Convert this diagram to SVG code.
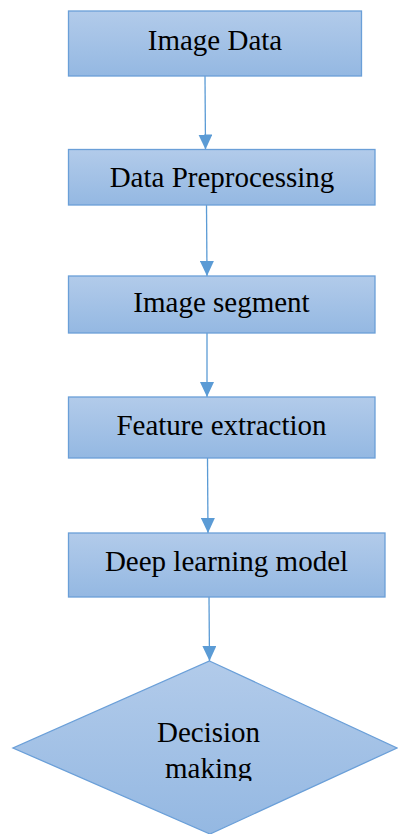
<svg xmlns="http://www.w3.org/2000/svg" width="398" height="834" viewBox="0 0 398 834">
  <defs>
    <linearGradient id="fillGrad" x1="0" y1="0" x2="0" y2="1">
      <stop offset="0" stop-color="#b2cbea"/>
      <stop offset="1" stop-color="#94b8e2"/>
    </linearGradient>
    <marker id="arrow" viewBox="0 0 15 14" refX="15" refY="7" markerWidth="15" markerHeight="14" markerUnits="userSpaceOnUse" orient="auto">
      <path d="M0,0 L15,7 L0,14 Z" fill="#5b9bd5"/>
    </marker>
    <clipPath id="diaClip">
      <rect x="0" y="0" width="398" height="781"/>
    </clipPath>
  </defs>
  <style>
    .box { fill: url(#fillGrad); stroke: #6a9fd8; stroke-width: 1.3; }
    .lbl { font-family: "Liberation Serif", "Times New Roman", serif; font-size: 29px; fill: #000; text-anchor: middle; }
    .conn { stroke: #5b9bd5; stroke-width: 1.3; fill: none; marker-end: url(#arrow); }
  </style>

  <g id="connectors">
    <line class="conn" x1="205" y1="76" x2="205.5" y2="149.5"/>
    <line class="conn" x1="206.5" y1="205" x2="207" y2="276"/>
    <line class="conn" x1="207" y1="333" x2="207" y2="397"/>
    <line class="conn" x1="207.5" y1="458" x2="208" y2="533"/>
    <line class="conn" x1="209" y1="597" x2="209.5" y2="661"/>
  </g>

  <g id="node-image-data">
    <rect class="box" x="68.5" y="11" width="293" height="65"/>
    <text class="lbl" x="215" y="50">Image Data</text>
  </g>

  <g id="node-data-preprocessing">
    <rect class="box" x="68.5" y="149.5" width="306.5" height="55.5"/>
    <text class="lbl" x="222" y="187">Data Preprocessing</text>
  </g>

  <g id="node-image-segment">
    <rect class="box" x="68.5" y="276" width="306.5" height="57"/>
    <text class="lbl" x="221.5" y="312">Image segment</text>
  </g>

  <g id="node-feature-extraction">
    <rect class="box" x="68.5" y="397" width="306.5" height="61"/>
    <text class="lbl" x="221.5" y="434.5">Feature extraction</text>
  </g>

  <g id="node-deep-learning-model">
    <rect class="box" x="68.5" y="533" width="316.5" height="64"/>
    <text class="lbl" x="226.5" y="571">Deep learning model</text>
  </g>

  <g id="node-decision-making">
    <polygon class="box" points="209.5,661 397,748 210,834 13,748"/>
    <g clip-path="url(#diaClip)">
      <text class="lbl" x="208.5" y="742">Decision</text>
      <text class="lbl" x="208.5" y="778">making</text>
    </g>
  </g>
</svg>
